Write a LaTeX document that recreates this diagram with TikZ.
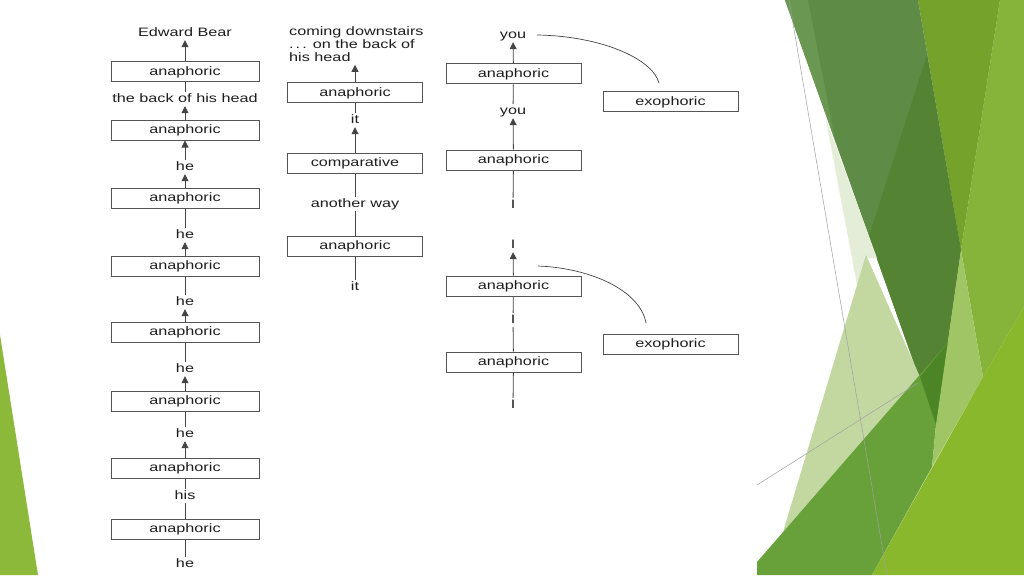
\documentclass[tikz,border=0pt]{standalone}
\usepackage{fontspec}
\setmainfont{Liberation Sans}[FakeStretch=1.33]
\usetikzlibrary{arrows.meta}
\definecolor{txt}{HTML}{1E1E1E}
\definecolor{linec}{HTML}{444444}
\definecolor{boxc}{HTML}{555555}
\definecolor{lightlime}{HTML}{86B43A}
\definecolor{darklime}{HTML}{74A22A}
\definecolor{darkband}{HTML}{5E8B45}
\definecolor{darksub}{HTML}{548433}
\definecolor{leftwedge}{HTML}{6A9853}
\definecolor{paleA}{HTML}{E4EDD8}
\definecolor{paleB}{HTML}{C3D8A0}
\definecolor{midgreen}{HTML}{68A13A}
\definecolor{darkest}{HTML}{4B8526}
\definecolor{lightstrip}{HTML}{A0C565}
\definecolor{brightlime}{HTML}{8AB82C}
\definecolor{lefttri}{HTML}{8DB93A}
\definecolor{greyline}{HTML}{A0A0A0}
\tikzset{
  lbox/.style={draw=boxc, line width=1pt, minimum width=148pt, minimum height=20pt, inner sep=0pt, text=txt},
  mbox/.style={lbox, minimum width=135pt},
  lbl/.style={inner sep=1.5pt, text=txt, text height=8.6pt, text depth=2.4pt, yshift=-2pt},
  arr/.style={draw=linec, line width=0.8pt, -{Triangle[width=7pt,length=7pt]}},
  ln/.style={draw=linec, line width=0.8pt},
  curv/.style={draw=linec, line width=0.7pt},
  gline/.style={draw=greyline, line width=0.5pt}
}
\begin{document}
\begin{tikzpicture}[x=1pt,y=-1pt,font=\fontsize{12.2}{13}\selectfont]
\useasboundingbox (0,0) rectangle (1024,575);
\fill[white] (0,0) rectangle (1024,575);
% decoration
\fill[lefttri] (0,335) -- (38,575) -- (0,575) -- cycle;
\fill[lightlime] (1000,0) -- (1024,0) -- (1024,307) -- (983,377) -- (961,250) -- cycle;
\fill[darklime] (918,0) -- (1000,0) -- (961,250) -- cycle;
\fill[darkband] (785,0) -- (918,0) -- (961,250) -- (936,425) -- cycle;
\fill[darksub] (927,55) -- (961,250) -- (936,425) -- (869,236) -- cycle;
\fill[leftwedge] (785,0) -- (808,0) -- (835,140) -- cycle;
\fill[paleA] (826,120) -- (877,258) -- (866,258) -- (858,290) -- cycle;
\fill[paleB] (866,255) -- (920,377) -- (783,532) -- cycle;
\fill[midgreen] (757,562) -- (951,339) -- (936,425) -- (932,467) -- (872,575) -- (757,575) -- cycle;
\fill[darkest] (951,339) -- (920,377) -- (936,425) -- cycle;
\fill[lightstrip] (961,250) -- (983,377) -- (932,467) -- (936,425) -- cycle;
\fill[brightlime] (1024,307) -- (1024,575) -- (872,575) -- (983,377) -- cycle;
\draw[gline] (789,0) -- (887,575);
\draw[gline] (757,485) -- (918,383);
% left column
\node[lbox] (L1) at (185,72) {anaphoric};
\node[lbox] (L2) at (185,130) {anaphoric};
\node[lbox] (L3) at (185,198) {anaphoric};
\node[lbox] (L4) at (185,266) {anaphoric};
\node[lbox] (L5) at (185,332) {anaphoric};
\node[lbox] (L6) at (185,401) {anaphoric};
\node[lbox] (L7) at (185,468) {anaphoric};
\node[lbox] (L8) at (185,529) {anaphoric};
\node[lbl] (Ta) at (185,31) {Edward Bear};
\node[lbl] (Tb) at (185,97) {the back of his head};
\node[lbl] (T2) at (185,165) {he};
\node[lbl] (T3) at (185,233) {he};
\node[lbl] (T4) at (185,300) {he};
\node[lbl] (T5) at (185,367) {he};
\node[lbl] (T6) at (185,432) {he};
\node[lbl] (T7) at (185,494) {his};
\node[lbl] (T8) at (185,562) {he};
\draw[arr] (L1) -- (Ta);
\draw[ln] (L1) -- (Tb);
\draw[arr] (L2) -- (Tb);
\draw[arr] (T2) -- (L2);
\draw[arr] (L3) -- (T2);
\draw[ln] (L3) -- (T3);
\draw[arr] (L4) -- (T3);
\draw[ln] (L4) -- (T4);
\draw[arr] (L5) -- (T4);
\draw[ln] (L5) -- (T5);
\draw[arr] (L6) -- (T5);
\draw[ln] (L6) -- (T6);
\draw[arr] (L7) -- (T6);
\draw[ln] (L7) -- (T7);
\draw[ln] (L8) -- (T7);
\draw[ln] (L8) -- (T8);
% middle column
\node[mbox] (M1) at (355,93) {anaphoric};
\node[mbox] (M2) at (355,163) {comparative};
\node[mbox] (M3) at (355,246) {anaphoric};
\node[inner sep=0pt, anchor=north west, align=left, text=txt] (Mt) at (289,26.5) {coming downstairs\\.\,.\,. on the back of\\his head};
\node[lbl] (Mi1) at (355,118) {it};
\node[lbl] (Mw) at (355,202) {another way};
\node[lbl] (Mi2) at (355,285) {it};
\draw[arr] (M1.north) -- ([yshift=-3pt]M1.north |- Mt.south);
\draw[ln] (M1) -- (Mi1);
\draw[arr] (M2) -- (Mi1);
\draw[ln] (M2) -- (Mw);
\draw[ln] (M3) -- (Mw);
\draw[ln] (M3) -- (Mi2);
% right column
\node[mbox] (R1) at (513.5,74) {anaphoric};
\node[mbox] (R2) at (513.5,160) {anaphoric};
\node[mbox] (R3) at (513.5,286) {anaphoric};
\node[mbox] (R4) at (513.5,362) {anaphoric};
\node[mbox] (E1) at (670.5,102) {exophoric};
\node[mbox] (E2) at (670.5,344) {exophoric};
\node[lbl] (Y1) at (513,33) {you};
\node[lbl] (Y2) at (513,109) {you};
\node[lbl] (I1) at (513,203) {I};
\node[lbl] (I2) at (513,243) {I};
\node[lbl] (I3) at (513,318) {I};
\node[lbl] (I4) at (513,403) {I};
\draw[arr] (R1) -- (Y1);
\draw[ln] (R1) -- (Y2);
\draw[arr] (R2) -- (Y2);
\draw[ln] (R2) -- (I1);
\draw[arr] (R3) -- (I2);
\draw[ln] (R3) -- (I3);
\draw[ln] (R4) -- (I3);
\draw[ln] (R4) -- (I4);
\coordinate (c1s) at (537,35);
\coordinate (c1e) at (659,83);
\coordinate (c2s) at (538,266);
\coordinate (c2e) at (646,323);
\draw[curv] (c1s) .. controls (600,36) and (652,58) .. (c1e);
\draw[curv] (c2s) .. controls (590,268) and (640,290) .. (c2e);
\end{tikzpicture}
\end{document}
